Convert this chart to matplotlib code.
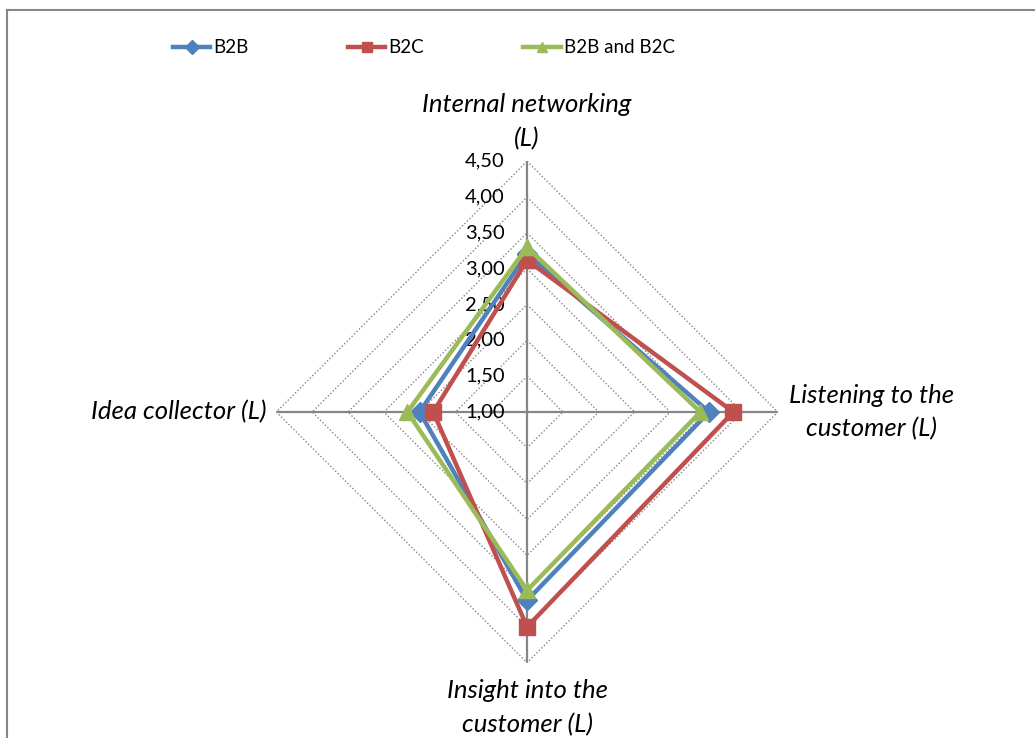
import numpy as np
import matplotlib.pyplot as plt
from matplotlib.lines import Line2D

categories = ['Internal networking\n(L)', 'Listening to the\ncustomer (L)',
              'Insight into the\ncustomer (L)', 'Idea collector (L)']
b2b = [3.21, 3.54, 3.63, 2.50]
b2c = [3.12, 3.88, 4.00, 2.31]
both = [3.30, 3.42, 3.49, 2.67]
series_names = ['B2B', 'B2C', 'B2B and B2C']
rticks = [1.0, 1.5, 2.0, 2.5, 3.0, 3.5, 4.0, 4.5]

colors = ['#4F81BD', '#C0504D', '#9BBB59']
markers = ['D', 's', '^']
msizes = [10, 11, 11]
grey = '#868686'

plt.rcParams['font.family'] = ['Lato', 'DejaVu Sans']

fig = plt.figure(figsize=(10.35, 7.38), dpi=100)
ax = fig.add_axes([0.2670, 0.1020, 0.4845, 0.6795], projection='polar')
ax.set_theta_zero_location('N')
ax.set_theta_direction(-1)

n = len(categories)
angles = np.linspace(0, 2 * np.pi, n, endpoint=False)
closed = np.append(angles, angles[0])

ax.set_ylim(rticks[0], rticks[-1])
ax.set_xticks(angles)
ax.set_xticklabels([])
ax.set_yticks(rticks)
ax.set_yticklabels([])
ax.yaxis.grid(False)
ax.xaxis.grid(True, color=grey, linestyle='-', linewidth=1.6)
ax.spines['polar'].set_visible(False)
ax.patch.set_alpha(0)

# dotted diamond gridlines
for r in rticks[1:]:
    ax.plot(closed, [r] * (n + 1), color=grey, linestyle=(0, (1, 1.5)),
            linewidth=1.0, zorder=1)

# radial value labels left of the vertical spoke
for r in rticks:
    ax.annotate(f'{r:.2f}'.replace('.', ','), xy=(0, r), xytext=(-16, 0),
                textcoords='offset points', ha='right', va='center',
                fontsize=14.5, color='#000000')

for vals, name, c, m, ms in zip([b2b, b2c, both], series_names, colors, markers, msizes):
    ax.plot(closed, vals + vals[:1], color=c, linewidth=3.2, marker=m,
            markersize=ms, label=name, zorder=3, clip_on=False)

# category labels around the chart
label_opts = [
    dict(xytext=(0, 8), ha='center', va='bottom'),
    dict(xytext=(8, 0), ha='left', va='center'),
    dict(xytext=(0, -12), ha='center', va='top'),
    dict(xytext=(-7, 0), ha='right', va='center'),
]
for ang, cat, opt in zip(angles, categories, label_opts):
    ax.annotate(cat, xy=(ang, rticks[-1]), textcoords='offset points',
                fontsize=18.5, fontstyle='italic', multialignment='center',
                linespacing=1.55, **opt)

handles = [Line2D([], [], color=c, linewidth=3.2, marker=m, markersize=7)
           for c, m in zip(colors, markers)]
fig.legend(handles, series_names, loc='center left', bbox_to_anchor=(0.167, 0.935),
           ncol=3, frameon=False, fontsize=13.5, handlelength=2.0,
           handletextpad=0.15, columnspacing=5.3, borderpad=0, borderaxespad=0)

# chart-area border along top and left
fig.add_artist(Line2D([0.0068, 1.0], [0.9865, 0.9865], color=grey, linewidth=1.5,
                      transform=fig.transFigure))
fig.add_artist(Line2D([0.0068, 0.0068], [0.0, 0.9865], color=grey, linewidth=1.5,
                      transform=fig.transFigure))

fig.savefig('out.png', dpi=100, facecolor='white')
